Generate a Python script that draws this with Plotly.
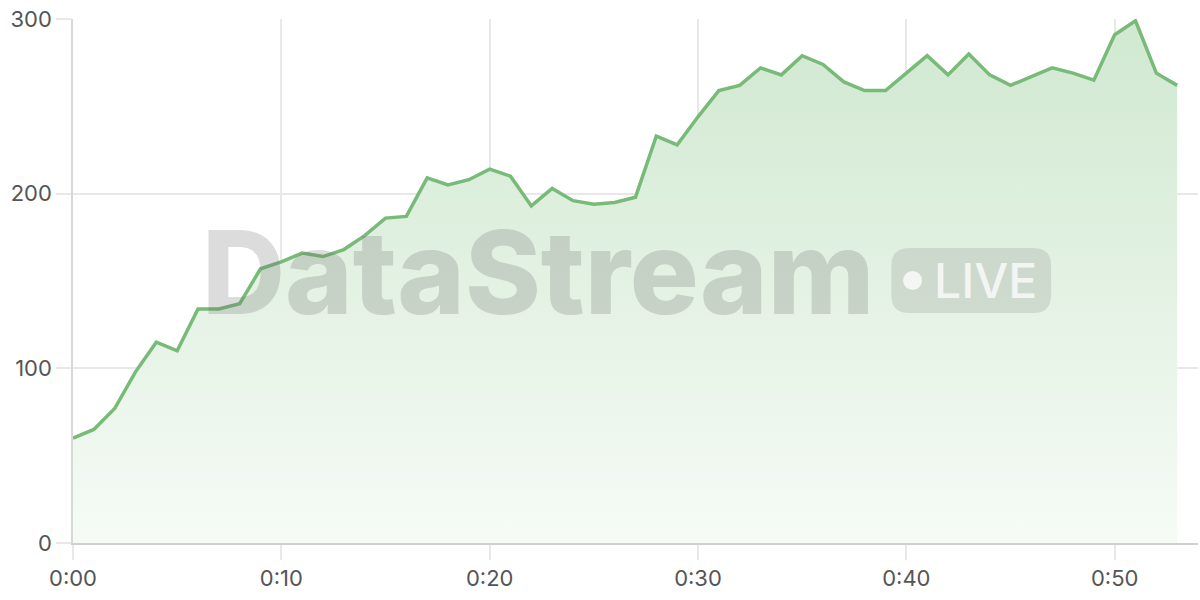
import plotly.graph_objects as go

# minutes since start, one sample per minute
minutes = list(range(54))
values = [60, 65, 77, 98, 115, 110, 134, 134, 137, 157,
          161, 166, 164, 168, 176, 186, 187, 209, 205, 208,
          214, 210, 193, 203, 196, 194, 195, 198, 233, 228,
          244, 259, 262, 272, 268, 279, 274, 264, 259, 259,
          269, 279, 268, 280, 268, 262, 267, 272, 269, 265,
          291, 299, 269, 262]

x_tick_vals = [0, 10, 20, 30, 40, 50]
x_tick_text = ["0:00", "0:10", "0:20", "0:30", "0:40", "0:50"]
y_tick_vals = [0, 100, 200, 300]

LINE = "#78ba78"
GRID = "#e8e8e8"
TEXT = "#555555"
FONT = "Inter"


def pill(x0, x1, y0, y1, r_px, px_x, px_y):
    # rounded rectangle in data units, radius given in pixels
    rx, ry = r_px / px_x, r_px / px_y
    return (f"M {x0+rx},{y0} L {x1-rx},{y0} Q {x1},{y0} {x1},{y0+ry} "
            f"L {x1},{y1-ry} Q {x1},{y1} {x1-rx},{y1} L {x0+rx},{y1} "
            f"Q {x0},{y1} {x0},{y1-ry} L {x0},{y0+ry} Q {x0},{y0} {x0+rx},{y0} Z")


fig = go.Figure()
fig.add_trace(go.Scatter(
    x=minutes, y=values, mode="lines",
    line=dict(color=LINE, width=3.5),
    fill="tozeroy",
    fillgradient=dict(type="vertical",
                      colorscale=[[0, "rgba(246,251,246,1)"], [1, "rgba(208,232,208,1)"]]),
    hoverinfo="skip",
))

# watermark
px_x = 1125 / 54
px_y = 524 / 300
fig.add_annotation(x=22.3, y=155, xref="x", yref="y", text="DataStream",
                   showarrow=False, xanchor="center", yanchor="middle",
                   font=dict(family=FONT, size=115, color="rgba(110,110,110,0.24)", weight=800))
fig.add_shape(type="path", xref="x", yref="y", layer="above", line_width=0,
              fillcolor="rgba(110,110,110,0.18)",
              path=pill(39.28, 46.95, 131.7, 168.9, 18, px_x, px_y))
fig.add_shape(type="circle", xref="x", yref="y", layer="above", line_width=0,
              fillcolor="rgba(255,255,255,0.75)",
              x0=40.3 - 9.5 / px_x, x1=40.3 + 9.5 / px_x,
              y0=150.3 - 9.5 / px_y, y1=150.3 + 9.5 / px_y)
fig.add_annotation(x=43.8, y=150.3, xref="x", yref="y", text="LIVE",
                   showarrow=False, xanchor="center", yanchor="middle",
                   font=dict(family=FONT, size=48, color="rgba(255,255,255,0.75)", weight=500))

fig.update_layout(
    width=1200, height=600,
    margin=dict(l=73, r=2, t=19, b=57),
    plot_bgcolor="white", paper_bgcolor="white",
    showlegend=False,
    font=dict(family=FONT, size=22, color=TEXT),
)
fig.update_xaxes(range=[0, 54], tickvals=x_tick_vals, ticktext=x_tick_text,
                 showgrid=True, gridcolor=GRID, gridwidth=1.5,
                 ticks="outside", ticklen=15, tickcolor=GRID, tickwidth=1.5,
                 showline=True, linecolor="#cfcfcf", linewidth=1.5,
                 zeroline=False, tickfont=dict(size=22, color=TEXT))
fig.update_yaxes(range=[0, 300], tickvals=y_tick_vals,
                 showgrid=True, gridcolor=GRID, gridwidth=1.5,
                 ticks="outside", ticklen=15, tickcolor=GRID, tickwidth=1.5,
                 showline=True, linecolor="#d8d8d8", linewidth=1.5,
                 zeroline=False, tickfont=dict(size=22, color=TEXT))

# drop the default 8px body margin so the figure sits at the page corner
fig.write_html("out.html", config={"displayModeBar": False},
               post_script="document.body.style.margin='0';")
